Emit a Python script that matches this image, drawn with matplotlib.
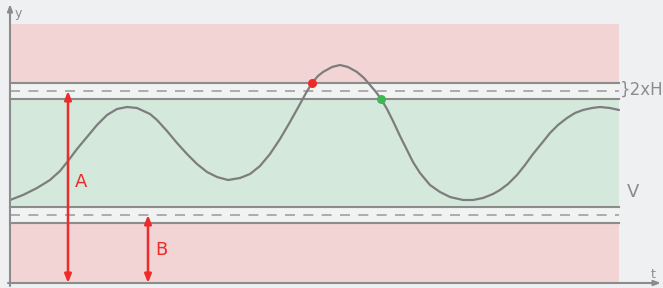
import matplotlib.pyplot as plt
import numpy as np

# curve (pixel coords of the reference, y grows downward)
curva_x = [10, 23, 37, 50, 60, 68, 77, 87, 97, 107, 117, 127, 137,
           150, 157, 167, 177, 187, 197, 207, 217, 228, 240, 250, 260, 270, 280, 290,
           300, 306, 312, 318, 323, 332, 340, 348, 357, 364, 370, 376, 381,
           387, 393, 400, 407, 413, 420, 430, 440, 450, 463, 473, 483, 493,
           500, 508, 517, 525, 533, 542, 550, 558, 567, 575, 583, 592, 600, 610, 619]
curva_y = [200, 195, 188, 180, 171, 161, 149, 137, 125, 115, 109, 107, 108,
           114, 120, 131, 143, 154, 164, 172, 177, 180, 178, 174, 166, 154, 139, 122,
           104, 93, 83, 76, 72, 67, 65, 67, 72, 78, 85, 92, 99,
           109, 121, 136, 150, 162, 173, 185, 192, 197, 200, 200, 198, 194,
           190, 184, 175, 165, 154, 143, 133, 125, 118, 113, 110, 108, 107, 108, 110]

# niveles de las bandas
t_ini, t_fin = 10, 619
rojo_arriba = 24
histeresis_sup = [83, 91, 99]     # linea, discontinua, linea
histeresis_inf = [207, 215, 223]
suelo = 283

punto_rojo = (312, 83)
punto_verde = (381, 99)
flecha_A = (68, 91, 283)
flecha_B = (148, 215, 283)

GRIS = "#8c8c8c"
ROJO = "#ee2b2b"

fig = plt.figure(figsize=(6.63, 2.88), dpi=100)
fig.patch.set_facecolor("#eef0f2")
ax = fig.add_axes([0, 0, 1, 1])
ax.set_xlim(0, 663)
ax.set_ylim(288, 0)
ax.axis("off")

# bandas de color
ax.fill_between([t_ini, t_fin], rojo_arriba, histeresis_sup[0], color="#f2d4d5", lw=0)
ax.fill_between([t_ini, t_fin], histeresis_sup[0], histeresis_sup[2], color="#f1f2f2", lw=0)
ax.fill_between([t_ini, t_fin], histeresis_sup[2], histeresis_inf[0], color="#d4e8dc", lw=0)
ax.fill_between([t_ini, t_fin], histeresis_inf[0], histeresis_inf[2], color="#f1f2f2", lw=0)
ax.fill_between([t_ini, t_fin], histeresis_inf[2], suelo, color="#f2d4d5", lw=0)

for nivel in (histeresis_sup, histeresis_inf):
    ax.plot([t_ini, t_fin], [nivel[0], nivel[0]], color=GRIS, lw=1.5)
    ax.plot([t_ini, t_fin], [nivel[2], nivel[2]], color=GRIS, lw=1.5)
    ax.plot([t_ini, t_fin], [nivel[1], nivel[1]], color="#a0a0a0", lw=1.2,
            dashes=(6, 5))

# señal
ax.plot(curva_x, curva_y, color="#7d7d7d", lw=1.6, solid_capstyle="round",
        solid_joinstyle="round")

ax.scatter(*punto_rojo, s=42, color=ROJO, zorder=5, lw=0)
ax.scatter(*punto_verde, s=42, color="#3db653", zorder=5, lw=0)

# ejes
ax.annotate("", xy=(t_ini, 4), xytext=(t_ini, 286),
            arrowprops=dict(arrowstyle="-|>,head_length=0.4,head_width=0.15",
                            color=GRIS, lw=1.5, shrinkA=0, shrinkB=0))
ax.annotate("", xy=(661, suelo), xytext=(8, suelo),
            arrowprops=dict(arrowstyle="-|>,head_length=0.4,head_width=0.15",
                            color=GRIS, lw=1.5, shrinkA=0, shrinkB=0))
ax.text(15, 14, "y", color=GRIS, fontsize=9, va="center", ha="left")
ax.text(651, 275, "t", color=GRIS, fontsize=9, va="center", ha="left")

# flechas A y B
for x, y0, y1 in (flecha_A, flecha_B):
    ax.annotate("", xy=(x, y0), xytext=(x, y1),
                arrowprops=dict(arrowstyle="<|-|>,head_length=0.5,head_width=0.2",
                                color=ROJO, lw=1.8, shrinkA=0, shrinkB=0))
ax.text(75, 182, "A", color=ROJO, fontsize=13, va="center", ha="left")
ax.text(155, 250, "B", color=ROJO, fontsize=13, va="center", ha="left")

ax.text(620, 90, "}2xH", color=GRIS, fontsize=12, va="center", ha="left")
ax.text(627, 192, "V", color=GRIS, fontsize=13, va="center", ha="left")

fig.savefig("out.png", dpi=100, facecolor=fig.get_facecolor())
